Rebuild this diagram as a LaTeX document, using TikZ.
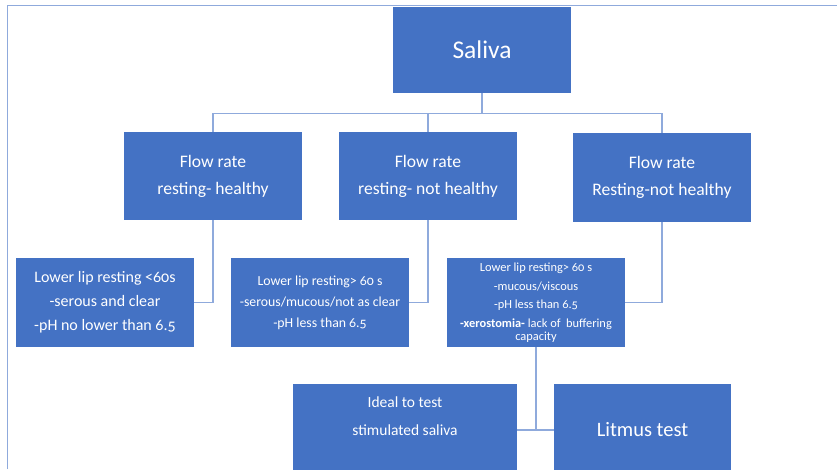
\documentclass[tikz,border=0pt]{standalone}
\usepackage{fontspec}
\setmainfont{Carlito}[Numbers=OldStyle]
\definecolor{boxblue}{HTML}{4472C4}
\definecolor{lineblue}{HTML}{8FAADC}
\tikzset{
  box/.style={fill=boxblue, text=white, align=center, inner sep=0pt},
  link/.style={draw=lineblue, line width=1.3pt},
}
\begin{document}
\begin{tikzpicture}[x=1pt, y=-1pt]
\useasboundingbox (0,0) rectangle (837,469);
\draw[lineblue, line width=1pt] (7,469) -- (7,5) -- (837,5);
% top
\node[box, minimum width=178pt, minimum height=86pt, font=\fontsize{25.5}{28}\selectfont] (saliva) at (482,50) {Saliva};
% flow rate
\node[box, minimum width=178pt, minimum height=88pt, font=\fontsize{17.6}{27}\selectfont] (fra) at (213,176) {Flow rate\\resting- healthy};
\node[box, minimum width=178pt, minimum height=88pt, font=\fontsize{17.6}{27}\selectfont] (frb) at (428,176) {Flow rate\\resting- not healthy};
\node[box, minimum width=178pt, minimum height=89pt, font=\fontsize{17.6}{27}\selectfont] (frc) at (662,177.5) {Flow rate\\Resting-not healthy};
% lower lip
\node[box, minimum width=178pt, minimum height=89pt, font=\fontsize{16}{24}\selectfont] (lipa) at (105,302.5) {Lower lip resting <60s\\-serous and clear\\-pH no lower than 6.5};
\node[box, minimum width=178pt, minimum height=89pt, font=\fontsize{13.8}{21}\selectfont] (lipb) at (320,302.5) {Lower lip resting> 60 s\\-serous/mucous/not as clear\\-pH less than 6.5};
\node[box, minimum width=178pt, minimum height=89pt, font=\fontsize{12.4}{18.5}\selectfont] (lipc) at (536,302.5) {Lower lip resting> 60 s\\-mucous/viscous\\-pH less than 6.5\\\textbf{-xerostomia-} lack of\ \ buffering\\[-5.5pt]capacity};
% tests
\node[box, minimum width=224pt, minimum height=92pt, font=\fontsize{15.5}{28}\selectfont] (ideal) at (405,430) {Ideal to test\\stimulated saliva\\\mbox{}};
\node[box, minimum width=177pt, minimum height=92pt, font=\fontsize{20.5}{24}\selectfont] (litmus) at (642.5,430) {Litmus test};
% links
\draw[link] (saliva.south) -- ++(0,20) -| (fra.north);
\draw[link] (saliva.south) -- ++(0,20) -| (frb.north);
\draw[link] (saliva.south) -- ++(0,20) -| (frc.north);
\draw[link] (fra.south) |- (lipa.east);
\draw[link] (frb.south) |- (lipb.east);
\draw[link] (frc.south) |- (lipc.east);
\draw[link] (lipc.south) |- (ideal.east);
\draw[link] (lipc.south) |- (litmus.west);
\end{tikzpicture}
\end{document}
